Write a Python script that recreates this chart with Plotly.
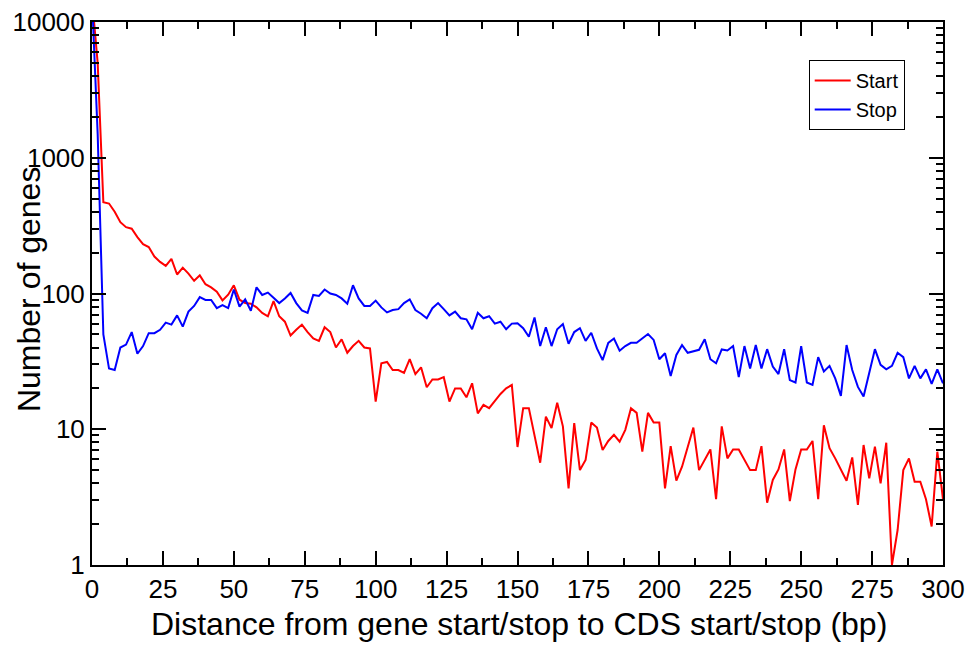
import plotly.graph_objects as go

distance = list(range(0, 301, 2))

start_counts = [
    15000, 5000, 470, 460, 400, 335, 308, 300, 260, 231,
    220, 187, 171, 160, 180, 138, 155, 140, 124, 136,
    117, 111, 103, 89, 98, 115, 90, 85, 84, 79,
    72, 68, 88, 68, 62, 49, 54, 59, 52, 46.6,
    44.8, 56.4, 52, 40, 46, 36.6, 41, 44.8, 40, 39.4,
    16, 30.6, 31.3, 27.3, 27.3, 26, 32.8, 25.5, 28.6, 20.4,
    23.3, 23.3, 24.2, 16, 20, 20, 17.2, 21.8, 13.1, 15.1,
    14.3, 16.3, 18.2, 20, 21.2, 7.4, 14.3, 14.3, 9.1, 5.67,
    12.4, 10.2, 15.7, 10.5, 3.67, 11.1, 5, 5.94, 11.2, 10.3,
    7.04, 8.2, 9.1, 8.1, 9.9, 14.3, 13.2, 6.83, 13.2, 11.2,
    11.2, 3.67, 7.5, 4.18, 5.3, 7.26, 10.3, 5, 5.94, 7.1,
    3.05, 10.5, 6.1, 7.1, 7.1, 6, 5, 5, 7.5, 2.88,
    4.23, 5.06, 7.1, 2.96, 5.06, 7.1, 7.1, 8.2, 3.05, 10.7,
    7.26, 6.1, 5.06, 4.18, 6.2, 2.77, 7.66, 4.35, 7.45, 4,
    7.96, 1, 1.81, 5, 6.1, 4.1, 4.1, 3.05, 1.92, 6.83,
    3.05,
]

stop_counts = [
    15000, 1500, 50, 28, 27.3, 40, 42, 52, 36, 41,
    51, 51, 54, 61, 59, 69, 57, 73.5, 81, 94,
    89.6, 89.6, 78, 82, 78, 107, 80, 90.5, 74.7, 111,
    97.6, 101.5, 93, 85, 92, 101, 85, 75, 72, 97.6,
    96, 107, 100, 97.6, 92, 84, 115, 92, 81, 81,
    88.6, 79, 72.6, 75.5, 76.7, 85, 90.5, 75.5, 71, 65.7,
    78, 85, 76.7, 69, 73.5, 65.7, 64.5, 54.5, 72, 65.7,
    68, 60, 62, 54.5, 60, 60.3, 55.5, 48, 66.6, 41,
    56.4, 41, 54.5, 59.6, 42.6, 52, 55.5, 44.8, 51.4, 39.4,
    32.3, 43.3, 46.6, 37.9, 41, 43.3, 43.3, 46.6, 50.3, 45.5,
    32.8, 36.3, 24.7, 35.3, 41.7, 36.6, 37.3, 38.5, 46, 32.8,
    30.6, 38.7, 38, 41, 24.2, 41, 28, 41.7, 28, 38.9,
    29, 25.5, 38.9, 23, 22.1, 41, 22.1, 21.2, 34, 26.6,
    29.3, 23.7, 17.6, 41.7, 27.3, 20.5, 17.4, 25.8, 38.9, 29.8,
    27.6, 29.3, 36.6, 34, 23.7, 29.3, 23.7, 27.6, 21.6, 27.6,
    21.8,
]

x_ticks = [0, 25, 50, 75, 100, 125, 150, 175, 200, 225, 250, 275, 300]
y_ticks = [1, 10, 100, 1000, 10000]
y_tick_labels = ["1", "10", "100", "1000", "10000"]

FONT = "Liberation Sans, Arial, sans-serif"

fig = go.Figure()
fig.add_trace(go.Scatter(x=distance, y=start_counts, mode="lines", name="Start",
                         line=dict(color="#ff0000", width=2)))
fig.add_trace(go.Scatter(x=distance, y=stop_counts, mode="lines", name="Stop",
                         line=dict(color="#0000ff", width=2)))

fig.update_layout(
    width=972, height=645,
    margin=dict(l=92, r=29, t=22, b=80, autoexpand=False),
    paper_bgcolor="white", plot_bgcolor="white",
    font=dict(family=FONT, color="black"),
    showlegend=True,
    legend=dict(x=0.955, y=0.93, xanchor="right", yanchor="top",
                bordercolor="black", borderwidth=1, bgcolor="white",
                font=dict(size=20, family=FONT), itemwidth=36,
                tracegroupgap=0),
)

fig.update_xaxes(
    range=[0, 300], tickvals=x_ticks, ticktext=[str(v) for v in x_ticks],
    showgrid=False, zeroline=False, automargin=False,
    showline=True, linecolor="black", linewidth=2, mirror="allticks",
    ticks="inside", ticklen=14, tickwidth=2, tickcolor="black",
    tickfont=dict(size=26, family=FONT),
    minor=dict(ticks="inside", dtick=12.5, tick0=0, ticklen=7, tickwidth=2, tickcolor="black", showgrid=False),
)
fig.update_yaxes(
    type="log", range=[0, 4], tickvals=y_ticks, ticktext=y_tick_labels,
    showgrid=False, zeroline=False, automargin=False,
    showline=True, linecolor="black", linewidth=2, mirror="allticks",
    ticks="inside", ticklen=14, tickwidth=2, tickcolor="black",
    tickfont=dict(size=26, family=FONT),
    minor=dict(ticks="inside", dtick="D1", ticklen=7, tickwidth=2, tickcolor="black", showgrid=False),
)

fig.add_annotation(text="Number of genes", textangle=-90, xref="paper", yref="paper",
                   x=-0.074, y=0.5064, xanchor="center", yanchor="middle",
                   showarrow=False, font=dict(size=32, family=FONT))
fig.add_annotation(text="Distance from gene start/stop to CDS start/stop (bp)",
                   xref="paper", yref="paper", x=0.502, y=-0.1087,
                   xanchor="center", yanchor="middle",
                   showarrow=False, font=dict(size=32, family=FONT))

fig.write_html("out.html")
